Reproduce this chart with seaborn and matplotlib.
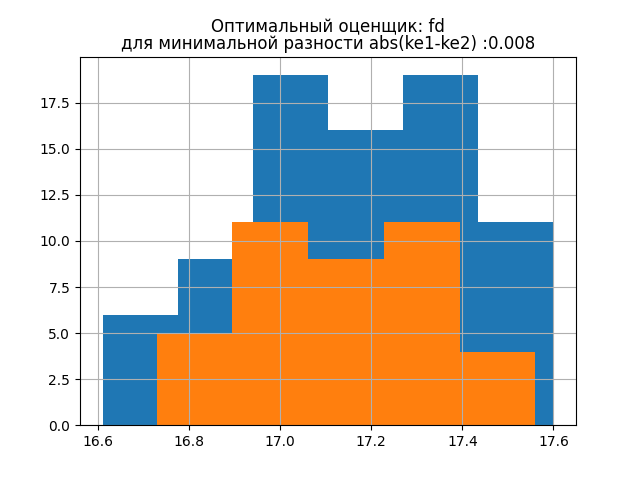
import matplotlib
matplotlib.use("Agg")
import matplotlib.pyplot as plt
import seaborn as sns
import numpy as np

# Blue histogram (first sample)
blue_edges = [16.610, 16.775, 16.940, 17.105, 17.270, 17.435, 17.600]
blue_counts = [6, 9, 19, 16, 19, 11]
# Orange histogram (second sample)
orange_edges = [16.729, 16.895, 17.061, 17.228, 17.394, 17.560]
orange_counts = [5, 11, 9, 11, 4]

title_text = "Оптимальный оценщик: fd\nдля минимальной разности abs(ke1-ke2) :0.008"

fig, ax = plt.subplots(figsize=(6.4, 4.78), dpi=100)

def centers(edges):
    e = np.asarray(edges)
    return (e[:-1] + e[1:]) / 2

sns.histplot(x=centers(blue_edges), weights=blue_counts, bins=blue_edges,
             color="#1f77b4", alpha=1, linewidth=0, ax=ax)
sns.histplot(x=centers(orange_edges), weights=orange_counts, bins=orange_edges,
             color="#ff7f0e", alpha=1, linewidth=0, ax=ax)

ax.grid(True)
ax.set_xlabel("")
ax.set_ylabel("")
ax.set_yticks(np.arange(0, 18, 2.5))
ax.set_xticks([16.6, 16.8, 17.0, 17.2, 17.4, 17.6])
ax.set_xlim(16.5605, 17.6495)
ax.set_title(title_text, linespacing=0.95)

fig.savefig("out.png", dpi=100)
